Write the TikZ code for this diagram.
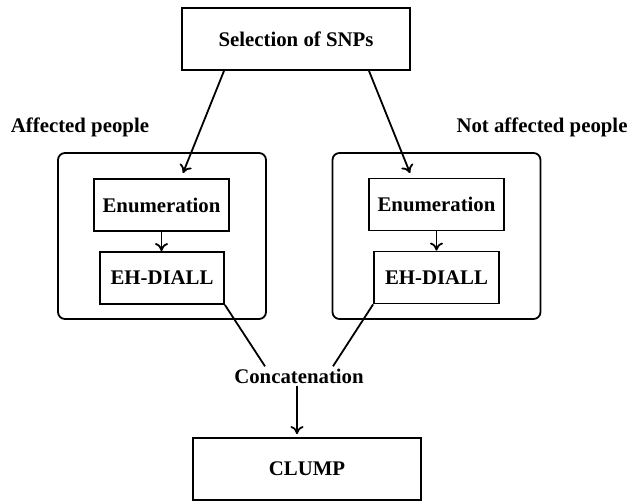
\documentclass[tikz,border=0pt]{standalone}
\usepackage{fontspec}
\usetikzlibrary{arrows.meta}
\setmainfont{Liberation Serif}
\begin{document}
\begin{tikzpicture}[x = 0.5pt, y = -0.5pt,
                every node/.style = {font = \fontsize{10.4}{12}\selectfont\bfseries},
                block/.style = {draw, line width = 0.9pt, minimum height = 26pt},
                group/.style = {draw, line width = 0.9pt, rounded corners = 3.5pt,
                                minimum width = 104pt, minimum height = 83pt},
                link/.style = {line width = 0.9pt},
                tip/.style = {-{To[length = 4pt, width = 6.5pt]}}]
                \useasboundingbox (0,0) rectangle (639,502);
                \node[block, minimum width = 114pt, minimum height = 31pt] (sel) at (296,39) {Selection of SNPs};
                \node[group] (grpL) at (162,236) {};
                \node[group] (grpR) at (436.5,236) {};
                \node[block, minimum width = 67.5pt] (enumL) at (161.5,205) {Enumeration};
                \node[block, minimum width = 62pt] (ehL) at (162,278) {EH-DIALL};
                \node[block, minimum width = 67.5pt] (enumR) at (436.5,204.5) {Enumeration};
                \node[block, minimum width = 62.5pt] (ehR) at (436.5,277.5) {EH-DIALL};
                \node (affL) at (80,127) {Affected people};
                \node (affR) at (542,127) {Not affected people};
                \node[inner sep = 1pt] (concat) at (299,376) {Concatenation};
                \node[block, minimum width = 114pt, minimum height = 31pt] (clump) at (307,469) {CLUMP};
                \coordinate (tipL) at (183,173);
                \coordinate (tipR) at (410,173);
                \draw[link, tip] ([xshift = -36pt]sel.south) -- (tipL);
                \draw[link, tip] ([xshift = 36.5pt]sel.south) -- (tipR);
                \draw[link, tip] (enumL.south) -- (enumL.south |- ehL.north);
                \draw[link, tip] (enumR.south) -- (enumR.south |- ehR.north);
                \draw[link] (ehL.south east) -- ([xshift = -17pt]concat.north);
                \draw[link] (ehR.south west) -- ([xshift = 17pt]concat.north);
                \draw[link, tip] ([xshift = -1pt]concat.south) -- ([xshift = -1pt, yshift = 1.5pt]concat.south |- clump.north);
            \end{tikzpicture}
\end{document}
